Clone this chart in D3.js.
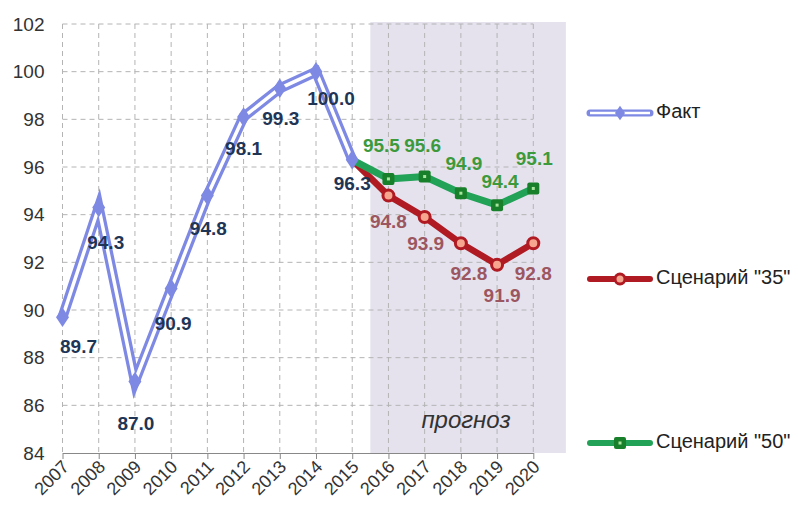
<!DOCTYPE html>
<html>
<head>
<meta charset="utf-8">
<script src="https://cdn.jsdelivr.net/npm/d3@7/dist/d3.min.js"></script>
<style>
  html, body { margin: 0; padding: 0; background: #fff; }
  svg { display: block; font-family: "Liberation Sans", Arial, sans-serif; }
</style>
</head>
<body>
<svg id="chart" width="798" height="510"></svg>
<script>
// Years on the x axis
const years = [2007, 2008, 2009, 2010, 2011, 2012, 2013, 2014, 2015, 2016, 2017, 2018, 2019, 2020];
const yTicks = [84, 86, 88, 90, 92, 94, 96, 98, 100, 102];

// Actual index, 2007–2015
const factYears = [2007, 2008, 2009, 2010, 2011, 2012, 2013, 2014, 2015];
const factValues = [89.7, 94.3, 87.0, 90.9, 94.8, 98.1, 99.3, 100.0, 96.3];

// Forecast scenarios, 2015–2020
const scenYears = [2015, 2016, 2017, 2018, 2019, 2020];
const scen35Values = [96.3, 94.8, 93.9, 92.8, 91.9, 92.8];
const scen50Values = [96.3, 95.5, 95.6, 94.9, 94.4, 95.1];

const forecastStart = 2015.5;
const forecastEnd = 2020.9;

const svg = d3.select("#chart");
const margin = { left: 62.5, right: 533.3, top: 24, bottom: 453 };

const x = d3.scaleLinear().domain([2007, 2020]).range([margin.left, margin.right]);
const y = d3.scaleLinear().domain([84, 102]).range([margin.bottom, margin.top]);

// Forecast band
svg.append("rect")
  .attr("x", x(forecastStart))
  .attr("y", y(102) - 2)
  .attr("width", x(forecastEnd) - x(forecastStart))
  .attr("height", y(84) - y(102) + 2)
  .attr("fill", "#e5e2ee");

// Grid
const grid = svg.append("g").attr("stroke", "#b4b4b4").attr("stroke-dasharray", "5,4").attr("stroke-width", 1);
grid.selectAll("line.h").data(yTicks.filter(d => d > 84)).join("line").attr("class", "h")
  .attr("x1", x(2007)).attr("x2", x(2020))
  .attr("y1", d => y(d)).attr("y2", d => y(d));
grid.selectAll("line.v").data(years).join("line").attr("class", "v")
  .attr("x1", d => x(d)).attr("x2", d => x(d))
  .attr("y1", y(102)).attr("y2", y(84));

// X axis
const xAxis = d3.axisBottom(x).tickValues(years).tickFormat(d3.format("d")).tickSize(6).tickSizeOuter(0);
const gx = svg.append("g").attr("transform", `translate(0,${y(84)})`).call(xAxis);
gx.select(".domain").attr("stroke", "#888");
gx.selectAll(".tick line").attr("stroke", "#888");
gx.selectAll(".tick text")
  .attr("font-size", 18).attr("fill", "#333")
  .attr("font-family", "Liberation Sans, Arial, sans-serif")
  .attr("text-anchor", "end")
  .attr("dy", null).attr("y", null)
  .attr("transform", "translate(7,15) rotate(-45)");

// Y axis labels
const gy = svg.append("g").attr("transform", `translate(${x(2007)},0)`)
  .call(d3.axisLeft(y).tickValues(yTicks).tickSize(0).tickPadding(18));
gy.select(".domain").remove();
gy.selectAll(".tick text").attr("font-size", 19).attr("fill", "#333")
  .attr("font-family", "Liberation Sans, Arial, sans-serif");

const line = d3.line().x(d => x(d[0])).y(d => y(d[1]));
const fact = factYears.map((yr, i) => [yr, factValues[i]]);
const s35 = scenYears.map((yr, i) => [yr, scen35Values[i]]);
const s50 = scenYears.map((yr, i) => [yr, scen50Values[i]]);

const cFact = "#7e89e4", cRed = "#b01a22", cGreen = "#21a257", cGreenDark = "#187f2a";

// Scenario "35"
svg.append("path").datum(s35).attr("d", line)
  .attr("fill", "none").attr("stroke", cRed).attr("stroke-width", 6.5).attr("stroke-linejoin", "round");
svg.selectAll("circle.s35").data(s35.slice(1)).join("circle").attr("class", "s35")
  .attr("cx", d => x(d[0])).attr("cy", d => y(d[1])).attr("r", 5.5)
  .attr("fill", "#f6a58e").attr("stroke", cRed).attr("stroke-width", 3);

// Scenario "50"
svg.append("path").datum(s50).attr("d", line)
  .attr("fill", "none").attr("stroke", cGreen).attr("stroke-width", 7).attr("stroke-linejoin", "round");
svg.selectAll("rect.s50").data(s50.slice(1)).join("rect").attr("class", "s50")
  .attr("x", d => x(d[0]) - 6).attr("y", d => y(d[1]) - 6).attr("width", 12).attr("height", 12).attr("rx", 2)
  .attr("fill", cGreenDark);
svg.selectAll("rect.s50c").data(s50.slice(1)).join("rect").attr("class", "s50c")
  .attr("x", d => x(d[0]) - 1.5).attr("y", d => y(d[1]) - 1.5).attr("width", 3).attr("height", 3)
  .attr("fill", "#a8e6a0");

// Actual: double line (outer colour, white core)
svg.append("path").datum(fact).attr("d", line)
  .attr("fill", "none").attr("stroke", cFact).attr("stroke-width", 10).attr("stroke-linejoin", "miter").attr("stroke-miterlimit", 10);
svg.append("path").datum(fact).attr("d", line)
  .attr("fill", "none").attr("stroke", "#fff").attr("stroke-width", 3.5).attr("stroke-linejoin", "miter").attr("stroke-miterlimit", 10);
const diamond = d3.symbol().type(d3.symbolDiamond).size(110);
svg.selectAll("path.fm").data(fact).join("path").attr("class", "fm")
  .attr("d", diamond)
  .attr("transform", d => `translate(${x(d[0])},${y(d[1])}) scale(1.15,1)`)
  .attr("fill", cFact);

// Value labels
const fmt = d3.format(".1f");
const factOffsets = [[16, 31], [7, 36], [1, 43], [2, 36], [1, 34], [0, 33], [1, 32], [15, 28], [0, 25]];
const s35Offsets = [null, [0, 27], [1, 28], [8, 32], [5, 32], [0, 32]];
const s50Offsets = [null, [-7, -32], [-2, -30], [3, -28], [3, -22], [1, -28]];

svg.selectAll("text.fl").data(fact).join("text").attr("class", "fl")
  .attr("x", (d, i) => x(d[0]) + factOffsets[i][0])
  .attr("y", (d, i) => y(d[1]) + factOffsets[i][1])
  .attr("text-anchor", "middle").attr("dominant-baseline", "middle")
  .attr("font-size", 19).attr("font-weight", "bold").attr("fill", "#1f3556")
  .text(d => fmt(d[1]));

svg.selectAll("text.rl").data(s35.slice(1)).join("text").attr("class", "rl")
  .attr("x", (d, i) => x(d[0]) + s35Offsets[i + 1][0])
  .attr("y", (d, i) => y(d[1]) + s35Offsets[i + 1][1])
  .attr("text-anchor", "middle").attr("dominant-baseline", "middle")
  .attr("font-size", 19).attr("font-weight", "bold").attr("fill", "#9c5660")
  .text(d => fmt(d[1]));

svg.selectAll("text.gl").data(s50.slice(1)).join("text").attr("class", "gl")
  .attr("x", (d, i) => x(d[0]) + s50Offsets[i + 1][0])
  .attr("y", (d, i) => y(d[1]) + s50Offsets[i + 1][1])
  .attr("text-anchor", "middle").attr("dominant-baseline", "middle")
  .attr("font-size", 19).attr("font-weight", "bold").attr("fill", "#3d9a3c")
  .text(d => fmt(d[1]));

// Forecast caption
svg.append("text")
  .attr("x", (x(2018) + x(2019)) / 2 - 13).attr("y", y(85.3))
  .attr("text-anchor", "middle").attr("dominant-baseline", "middle")
  .attr("font-size", 24).attr("font-style", "italic").attr("fill", "#333")
  .text("прогноз");

// Legend
const legend = [
  { name: "Факт", y: 113, kind: "fact" },
  { name: "Сценарий \"35\"", y: 279, kind: "s35" },
  { name: "Сценарий \"50\"", y: 443, kind: "s50" }
];
const lx1 = 590, lx2 = 650, lxm = 620;
legend.forEach(item => {
  const g = svg.append("g");
  if (item.kind === "fact") {
    g.append("line").attr("x1", lx1).attr("x2", lx2).attr("y1", item.y).attr("y2", item.y)
      .attr("stroke", cFact).attr("stroke-width", 7).attr("stroke-linecap", "round");
    g.append("line").attr("x1", lx1).attr("x2", lx2).attr("y1", item.y).attr("y2", item.y)
      .attr("stroke", "#fff").attr("stroke-width", 2.5);
    g.append("path").attr("d", d3.symbol().type(d3.symbolDiamond).size(60))
      .attr("transform", `translate(${lxm},${item.y}) scale(1.2,1)`).attr("fill", cFact);
  } else if (item.kind === "s35") {
    g.append("line").attr("x1", lx1).attr("x2", lx2).attr("y1", item.y).attr("y2", item.y)
      .attr("stroke", cRed).attr("stroke-width", 6).attr("stroke-linecap", "round");
    g.append("circle").attr("cx", lxm).attr("cy", item.y).attr("r", 5)
      .attr("fill", "#f6a58e").attr("stroke", cRed).attr("stroke-width", 3);
  } else {
    g.append("line").attr("x1", lx1).attr("x2", lx2).attr("y1", item.y).attr("y2", item.y)
      .attr("stroke", cGreen).attr("stroke-width", 6).attr("stroke-linecap", "round");
    g.append("rect").attr("x", lxm - 6).attr("y", item.y - 6).attr("width", 12).attr("height", 12).attr("rx", 2)
      .attr("fill", cGreenDark);
    g.append("rect").attr("x", lxm - 1.5).attr("y", item.y - 1.5).attr("width", 3).attr("height", 3)
      .attr("fill", "#a8e6a0");
  }
  g.append("text").attr("x", 656).attr("y", item.y).attr("dominant-baseline", "middle")
    .attr("font-size", 20).attr("font-weight", "normal").attr("fill", "#222").text(item.name);
});
</script>
</body>
</html>
